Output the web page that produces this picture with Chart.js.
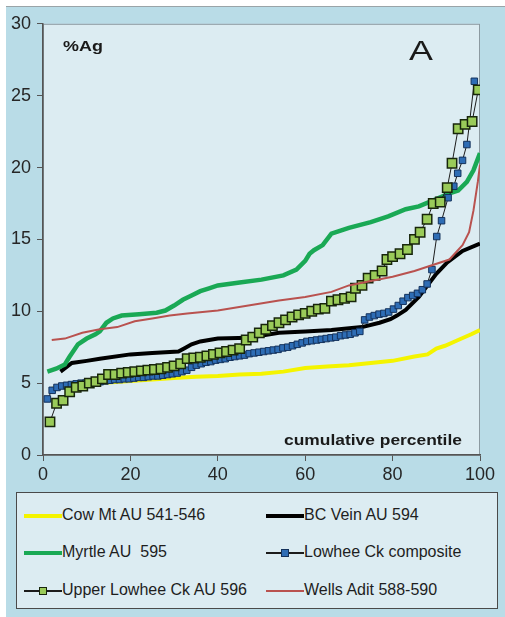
<!DOCTYPE html>
<html>
<head>
<meta charset="utf-8">
<script src="https://cdn.jsdelivr.net/npm/chart.js@4.4.0/dist/chart.umd.min.js"></script>
<style>
  body { margin: 0; background: #fff; font-family: "Liberation Sans", Arial, sans-serif; }
  #frame { position: absolute; left: 6px; top: 6px; width: 499px; height: 611px; background: #b9dce7; border-top: 1px solid #9aa4a8; }
  #myChart { position: absolute; left: 0; top: 0; }
  #legend { position: absolute; left: 10px; top: 485px; width: 480px; height: 115px; background: #dcecf2; border: 1px solid #4a4a4a; }
  .item { position: absolute; height: 20px; font-size: 16px; color: #1e1e1e; white-space: pre; }
  .sample { position: absolute; left: 0; top: 11px; width: 38px; }
  .txt { position: absolute; left: 38px; top: 1px; white-space: pre; }
</style>
</head>
<body>
<div id="frame">
  <canvas id="myChart" width="499" height="478"></canvas>
  <div id="legend"></div>
</div>
<script>
// --- Data ---
const cowX = [2, 5, 10, 15, 20, 25, 30, 35, 40, 45, 50, 55, 60, 65, 70, 75, 80, 85, 88, 90, 92, 95, 98, 100]
const cowY = [4.6, 4.8, 4.95, 5.05, 5.15, 5.25, 5.35, 5.45, 5.5, 5.6, 5.65, 5.8, 6.05, 6.15, 6.25, 6.4, 6.55, 6.85, 7.0, 7.4, 7.6, 8.0, 8.4, 8.7]

const bcX = [4, 6.6, 10, 13, 20, 25, 31, 32.5, 34, 36, 40, 47, 54, 60, 66, 73, 77, 79.5, 81, 83, 86, 88, 90, 92.5, 96, 100]
const bcY = [5.8, 6.4, 6.55, 6.7, 7.0, 7.1, 7.2, 7.45, 7.7, 7.9, 8.1, 8.15, 8.5, 8.6, 8.7, 8.9, 9.2, 9.45, 9.7, 10.1, 11.0, 11.8, 12.6, 13.4, 14.2, 14.7]

const myrtleX = [1, 3, 5, 6, 8, 10, 12, 13, 14.5, 16, 18, 22, 26, 28, 30, 32, 34, 36, 38, 40, 45, 50, 55, 58, 60, 61, 62, 64, 66, 70, 75, 79, 83, 86, 90, 93, 95, 97, 98.5, 100]
const myrtleY = [5.8, 6.0, 6.3, 6.8, 7.7, 8.1, 8.4, 8.6, 9.2, 9.5, 9.7, 9.8, 9.9, 10.05, 10.4, 10.8, 11.1, 11.4, 11.6, 11.8, 12.0, 12.2, 12.5, 12.9, 13.5, 14.0, 14.25, 14.6, 15.4, 15.8, 16.2, 16.6, 17.1, 17.3, 17.8, 18.2, 18.4, 19.0, 19.8, 21.0]

const lowheeX = [1.0, 2.1, 3.2, 4.3, 5.4, 6.5, 7.6, 8.7, 9.8, 10.9, 12.0, 13.1, 14.2, 15.3, 16.4, 17.5, 18.6, 19.7, 20.8, 21.9, 23.0, 24.1, 25.2, 26.3, 27.4, 28.5, 29.6, 30.7, 31.8, 32.9, 34.0, 35.1, 36.2, 37.3, 38.4, 39.5, 40.6, 41.7, 42.8, 43.9, 45.0, 46.1, 47.2, 48.3, 49.4, 50.5, 51.6, 52.7, 53.8, 54.9, 56.0, 57.1, 58.2, 59.3, 60.4, 61.5, 62.6, 63.7, 64.8, 65.9, 67.0, 68.1, 69.2, 70.3, 71.4, 72.5, 73.6, 74.7, 75.8, 76.9, 78.0, 79.1, 80.2, 81.3, 82.4, 83.5, 84.6, 85.7, 86.8, 87.9, 89.0, 90.1, 91.2, 92.7, 94.0, 94.9, 96.0, 97.0, 97.6, 98.7]
const lowheeY = [3.9, 4.5, 4.7, 4.8, 4.85, 4.9, 4.95, 5.0, 5.0, 5.05, 5.1, 5.1, 5.15, 5.2, 5.25, 5.25, 5.3, 5.3, 5.35, 5.4, 5.4, 5.45, 5.5, 5.5, 5.55, 5.6, 5.65, 5.7, 5.8, 5.9, 6.1, 6.25, 6.35, 6.45, 6.5, 6.6, 6.65, 6.7, 6.8, 6.85, 6.9, 6.95, 7.05, 7.1, 7.15, 7.2, 7.25, 7.3, 7.35, 7.45, 7.5, 7.6, 7.7, 7.8, 7.9, 7.95, 8.0, 8.05, 8.1, 8.15, 8.2, 8.3, 8.35, 8.4, 8.5, 8.6, 9.4, 9.6, 9.7, 9.8, 9.85, 9.95, 10.15, 10.4, 10.7, 10.95, 11.1, 11.25, 11.5, 11.9, 12.9, 15.2, 16.3, 17.9, 18.7, 19.6, 20.5, 21.6, 23.1, 26.0]

const upperX = [1.6, 3.1, 4.6, 6.1, 7.6, 9.1, 10.6, 12.1, 13.6, 15.0, 16.5, 18.0, 19.5, 21.0, 22.5, 24.0, 25.5, 27.0, 28.5, 30.0, 31.5, 33.0, 34.5, 36.0, 37.5, 39.0, 40.5, 42.0, 43.5, 45.0, 46.5, 48.0, 49.5, 51.0, 52.5, 54.0, 55.5, 57.0, 58.5, 60.0, 61.5, 63.0, 64.5, 66.0, 67.5, 69.0, 70.5, 71.5, 73.0, 74.4, 76.0, 77.6, 78.7, 80.0, 81.7, 83.4, 85.0, 86.3, 87.9, 89.3, 90.9, 92.5, 93.6, 95.0, 96.6, 98.2, 99.6]
const upperY = [2.3, 3.6, 3.8, 4.4, 4.7, 4.8, 5.0, 5.1, 5.3, 5.6, 5.6, 5.7, 5.75, 5.8, 5.85, 5.9, 5.95, 6.0, 6.1, 6.2, 6.35, 6.7, 6.75, 6.8, 6.9, 7.0, 7.1, 7.2, 7.3, 7.4, 8.0, 8.2, 8.5, 8.75, 9.0, 9.2, 9.4, 9.6, 9.75, 9.85, 10.0, 10.15, 10.2, 10.7, 10.8, 10.9, 11.0, 11.6, 11.8, 12.3, 12.5, 12.8, 13.6, 13.8, 14.0, 14.3, 15.0, 15.5, 16.4, 17.5, 17.6, 18.6, 20.3, 22.7, 23.0, 23.2, 25.4]

const wellsX = [2, 5, 9, 13, 17, 21, 25, 29, 33, 40, 47, 54, 60, 66, 70, 75, 80, 85, 89, 93, 96, 97.5, 98.5, 99.5, 100]
const wellsY = [8.0, 8.1, 8.5, 8.75, 8.9, 9.3, 9.5, 9.7, 9.85, 10.05, 10.4, 10.75, 11.0, 11.35, 11.8, 12.1, 12.4, 12.8, 13.2, 13.6, 14.6, 15.5, 17.0, 19.0, 20.2]

const xTicks = [0, 20, 40, 60, 80, 100]
const yTicks = [0, 5, 10, 15, 20, 25, 30]

function pts(xs, ys) {
    let out = []
    for (let i = 0; i < xs.length; i++) out.push({ x: xs[i], y: ys[i] })
    return out
}

// stretched text, the source picture is wider than tall
function wideText(ctx, txt, x, y, font, sx, align) {
    ctx.save()
    ctx.font = font
    ctx.translate(x, y)
    ctx.scale(sx, 1)
    ctx.textAlign = align || 'left'
    ctx.fillText(txt, 0, 0)
    ctx.restore()
}

// --- Plot background, border and labels ---
const plotDeco = {
    id: 'plotDeco',
    beforeDraw(chart) {
        const { ctx, chartArea: a } = chart
        ctx.save()
        ctx.fillStyle = '#dcecf2'
        ctx.fillRect(a.left, a.top, a.width, a.height)
        ctx.strokeStyle = '#8c9aa1'
        ctx.lineWidth = 1
        ctx.strokeRect(a.left + 0.5, a.top + 0.5, a.width - 1, a.height)
        ctx.restore()
    },
    afterDatasetsDraw(chart) {
        const { ctx, chartArea: a } = chart
        ctx.save()
        ctx.fillStyle = '#1a1a1a'
        ctx.textBaseline = 'alphabetic'
        wideText(ctx, '%Ag', a.left + 20, a.top + 27, 'bold 14px "Liberation Sans", Arial', 1.28)
        wideText(ctx, 'A', a.left + 366, a.top + 36, '28px "Liberation Sans", Arial', 1.28)
        wideText(ctx, 'cumulative percentile', a.left + 330, a.top + 421, 'bold 15px "Liberation Sans", Arial', 1.16, 'center')
        ctx.restore()
    }
}

Chart.defaults.font.family = '"Liberation Sans", Arial, sans-serif'
Chart.defaults.color = '#262626'

const datasets = [
    { label: 'Cow Mt AU 541-546', data: pts(cowX, cowY), borderColor: '#f4f400', borderWidth: 4, pointRadius: 0, order: 5 },
    { label: 'BC Vein AU 594', data: pts(bcX, bcY), borderColor: '#000000', borderWidth: 4, pointRadius: 0, order: 4 },
    { label: 'Myrtle AU  595', data: pts(myrtleX, myrtleY), borderColor: '#1aa955', borderWidth: 4.5, pointRadius: 0, order: 3 },
    { label: 'Lowhee Ck composite', data: pts(lowheeX, lowheeY), borderColor: '#1c1c1c', borderWidth: 1,
      pointStyle: 'rect', pointRadius: 4.6, pointBackgroundColor: '#2e6db5', pointBorderColor: '#14325c', pointBorderWidth: 1, order: 2 },
    { label: 'Upper Lowhee Ck AU 596', data: pts(upperX, upperY), borderColor: '#1c1c1c', borderWidth: 1,
      pointStyle: 'rect', pointRadius: 6.6, pointBackgroundColor: '#9acb59', pointBorderColor: '#18260c', pointBorderWidth: 1.5, order: 1 },
    { label: 'Wells Adit 588-590', data: pts(wellsX, wellsY), borderColor: '#b9524f', borderWidth: 2, pointRadius: 0, order: 0 }
]

const ctx = document.getElementById('myChart').getContext('2d')
const myChart = new Chart(ctx, {
    type: 'line',
    data: { datasets: datasets },
    options: {
        responsive: false,
        animation: false,
        layout: { padding: { top: 10, right: 25, left: 0, bottom: 0 } },
        plugins: { legend: { display: false }, tooltip: { enabled: false } },
        elements: { line: { tension: 0 } },
        scales: {
            x: {
                type: 'linear', min: 0, max: 100,
                afterBuildTicks: s => { s.ticks = xTicks.map(v => ({ value: v })) },
                afterFit: s => { s.height = 30 },
                grid: { drawOnChartArea: false, tickLength: 6, color: '#555' },
                border: { color: '#555', width: 1.5 },
                ticks: { font: { size: 18 }, padding: 3, maxRotation: 0 }
            },
            y: {
                type: 'linear', min: 0, max: 30,
                afterBuildTicks: s => { s.ticks = yTicks.map(v => ({ value: v })) },
                afterFit: s => { s.width = 37 },
                grid: { drawOnChartArea: false, tickLength: 6, color: '#555' },
                border: { color: '#555', width: 1.5 },
                ticks: { font: { size: 18 }, padding: 6 }
            }
        }
    },
    plugins: [plotDeco]
})

// --- Legend ---
const legendPos = [[7, 12], [249, 12], [7, 49], [249, 49], [7, 87], [249, 87]]
const legend = document.getElementById('legend')
datasets.forEach((d, i) => {
    const item = document.createElement('div')
    item.className = 'item'
    item.style.left = legendPos[i][0] + 'px'
    item.style.top = legendPos[i][1] + 'px'
    const lw = d.pointStyle ? 1.5 : Math.min(d.borderWidth, 4)
    let html = '<div class="sample" style="height:' + lw + 'px;margin-top:' + (-lw / 2) + 'px;background:' + d.borderColor + '"></div>'
    if (d.pointStyle) {
        html += '<div style="position:absolute;left:15px;top:7px;width:6px;height:6px;background:' + d.pointBackgroundColor +
            ';border:1px solid ' + d.pointBorderColor + '"></div>'
    }
    html += '<span class="txt">' + d.label + '</span>'
    item.innerHTML = html
    legend.appendChild(item)
})
</script>
</body>
</html>
